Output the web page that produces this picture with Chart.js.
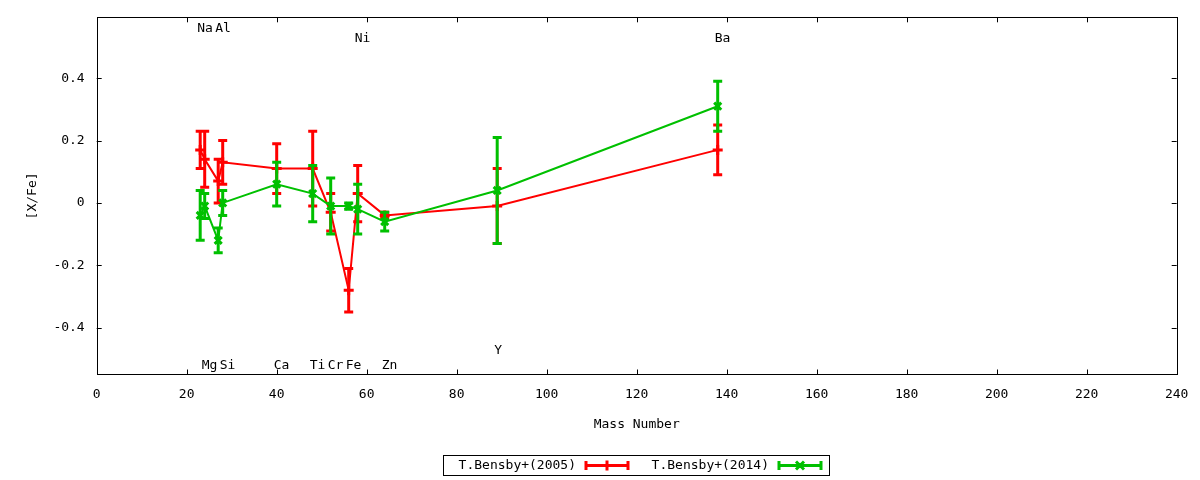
<!DOCTYPE html>
<html>
<head>
<meta charset="utf-8">
<script src="https://cdn.jsdelivr.net/npm/chart.js@4.4.0/dist/chart.umd.min.js"></script>
<style>
  html, body { margin: 0; padding: 0; background: #fff; }
</style>
</head>
<body>
<canvas id="myChart" width="1200" height="480"></canvas>
<script>
// mass number of each element (most abundant isotope)
const massNumbers = [23, 24, 27, 28, 40, 48, 52, 56, 58, 64, 89, 138];
const elementNames = ['Na', 'Mg', 'Al', 'Si', 'Ca', 'Ti', 'Cr', 'Fe', 'Ni', 'Zn', 'Y', 'Ba'];
// where the element name sits, in [X/Fe] units
const elementLabelY = [0.56, -0.52, 0.56, -0.52, -0.52, -0.52, -0.52, -0.52, 0.527, -0.52, -0.475, 0.527];

const bensby2005 = [0.17, 0.14, 0.07, 0.13, 0.11, 0.11, -0.03, -0.28, 0.03, -0.04, -0.01, 0.17];
const bensby2005Err = [0.06, 0.09, 0.07, 0.07, 0.08, 0.12, 0.06, 0.07, 0.09, 0.01, 0.12, 0.08];
const bensby2014 = [-0.04, -0.01, -0.12, 0.00, 0.06, 0.03, -0.01, -0.01, -0.02, -0.06, 0.04, 0.31];
const bensby2014Err = [0.08, 0.04, 0.04, 0.04, 0.07, 0.09, 0.09, 0.01, 0.08, 0.03, 0.17, 0.08];

const seriesLabels = ['T.Bensby+(2005)', 'T.Bensby+(2014)'];
const xTicks = [0, 20, 40, 60, 80, 100, 120, 140, 160, 180, 200, 220, 240];
const yTicks = [-0.4, -0.2, 0, 0.2, 0.4];

const FONT = "'DejaVu Sans Mono', 'Liberation Mono', monospace";
const RED = '#ff0000';
const GREEN = '#00c000';

const toPoints = vals => vals.map((v, i) => ({ x: massNumbers[i], y: v }));

// gnuplot-like frame with inward ticks on all four sides
const framePlugin = {
  id: 'frame',
  beforeDatasetsDraw(chart) {
    const { ctx, chartArea: a, scales } = chart;
    ctx.save();
    ctx.strokeStyle = '#000';
    ctx.lineWidth = 1;
    ctx.strokeRect(Math.round(a.left) + 0.5, Math.round(a.top) + 0.5,
      Math.round(a.right - a.left), Math.round(a.bottom - a.top));
    ctx.beginPath();
    xTicks.forEach(t => {
      const x = Math.round(scales.x.getPixelForValue(t)) + 0.5;
      ctx.moveTo(x, a.bottom); ctx.lineTo(x, a.bottom - 5);
      ctx.moveTo(x, a.top); ctx.lineTo(x, a.top + 5);
    });
    yTicks.forEach(t => {
      const y = Math.round(scales.y.getPixelForValue(t)) + 0.5;
      ctx.moveTo(a.left, y); ctx.lineTo(a.left + 5, y);
      ctx.moveTo(a.right, y); ctx.lineTo(a.right - 5, y);
    });
    ctx.stroke();
    ctx.restore();
  }
};

// vertical error bars with caps, drawn right before each dataset's line
const errorBarPlugin = {
  id: 'errorBars',
  beforeDatasetDraw(chart, args) {
    const ds = chart.data.datasets[args.index];
    if (!ds.errors) return;
    const { ctx, scales } = chart;
    ctx.save();
    ctx.strokeStyle = ds.borderColor;
    ctx.lineWidth = 3;
    ctx.beginPath();
    ds.data.forEach((p, i) => {
      const x = scales.x.getPixelForValue(p.x);
      const yTop = scales.y.getPixelForValue(p.y + ds.errors[i]);
      const yBot = scales.y.getPixelForValue(p.y - ds.errors[i]);
      ctx.moveTo(x, yTop); ctx.lineTo(x, yBot);
      ctx.moveTo(x - 4.5, yTop); ctx.lineTo(x + 4.5, yTop);
      ctx.moveTo(x - 4.5, yBot); ctx.lineTo(x + 4.5, yBot);
    });
    ctx.stroke();
    ctx.restore();
  }
};

// element names + gnuplot style legend box
const textPlugin = {
  id: 'texts',
  afterDraw(chart) {
    const { ctx, scales, chartArea: a } = chart;
    ctx.save();
    ctx.font = '13px ' + FONT;
    ctx.fillStyle = '#000';
    ctx.textBaseline = 'middle';
    ctx.textAlign = 'left';
    elementNames.forEach((name, i) => {
      ctx.fillText(name, scales.x.getPixelForValue(massNumbers[i]) - 3,
        scales.y.getPixelForValue(elementLabelY[i]));
    });

    // legend
    const entryW = 193;
    const boxW = entryW * chart.data.datasets.length;
    const boxL = Math.round((a.left + a.right) / 2 - boxW / 2) - 1;
    const boxT = 455, boxH = 20;
    ctx.lineWidth = 1;
    ctx.strokeStyle = '#000';
    ctx.strokeRect(boxL + 0.5, boxT + 0.5, boxW, boxH);
    const cy = boxT + boxH / 2 + 0.5;
    chart.data.datasets.forEach((ds, i) => {
      const x0 = boxL + i * entryW;
      ctx.textAlign = 'right';
      ctx.fillStyle = '#000';
      ctx.fillText(ds.label, x0 + 133, cy);
      const s0 = x0 + 143, s1 = x0 + 185;
      ctx.strokeStyle = ds.borderColor;
      ctx.lineWidth = 3;
      ctx.beginPath();
      ctx.moveTo(s0, cy); ctx.lineTo(s1, cy);
      ctx.moveTo(s0, cy - 4.5); ctx.lineTo(s0, cy + 4.5);
      ctx.moveTo(s1, cy - 4.5); ctx.lineTo(s1, cy + 4.5);
      const m = (s0 + s1) / 2;
      if (ds.pointStyle === 'crossRot') {
        ctx.moveTo(m - 4, cy - 4); ctx.lineTo(m + 4, cy + 4);
        ctx.moveTo(m - 4, cy + 4); ctx.lineTo(m + 4, cy - 4);
      } else {
        ctx.moveTo(m, cy - 5); ctx.lineTo(m, cy + 5);
      }
      ctx.stroke();
    });
    ctx.restore();
  }
};

const ctx = document.getElementById('myChart').getContext('2d');

const chart = new Chart(ctx, {
  type: 'line',
  data: {
    datasets: [
      {
        label: seriesLabels[0],
        data: toPoints(bensby2005),
        errors: bensby2005Err,
        borderColor: RED,
        backgroundColor: RED,
        borderWidth: 2,
        pointStyle: 'cross',
        pointRadius: 5,
        pointBorderWidth: 3,
        order: 1
      },
      {
        label: seriesLabels[1],
        data: toPoints(bensby2014),
        errors: bensby2014Err,
        borderColor: GREEN,
        backgroundColor: GREEN,
        borderWidth: 2,
        pointStyle: 'crossRot',
        pointRadius: 5,
        pointBorderWidth: 3,
        order: 0
      }
    ]
  },
  options: {
    responsive: false,
    animation: false,
    devicePixelRatio: 1,
    layout: { padding: { left: 0, right: 23.3, top: 17.3, bottom: 43.5 } },
    plugins: { legend: { display: false }, tooltip: { enabled: false } },
    scales: {
      x: {
        type: 'linear',
        min: 0,
        max: 240,
        afterBuildTicks: axis => { axis.ticks = xTicks.map(v => ({ value: v })); },
        afterFit: axis => { axis.height = 62; axis.paddingLeft = 0; axis.paddingRight = 0; },
        grid: { display: false, drawTicks: false },
        border: { display: false },
        ticks: { padding: 12, color: '#000', font: { family: FONT, size: 13 }, maxRotation: 0 },
        title: { display: true, text: 'Mass Number', color: '#000',
          font: { family: FONT, size: 13 }, padding: { top: 0, bottom: 4 } }
      },
      y: {
        min: -0.55,
        max: 0.595,
        afterBuildTicks: axis => { axis.ticks = yTicks.map(v => ({ value: v })); },
        afterFit: axis => { axis.width = 96.7; axis.paddingTop = 0; axis.paddingBottom = 0; },
        grid: { display: false, drawTicks: false },
        border: { display: false },
        ticks: { padding: 12, color: '#000', font: { family: FONT, size: 13 },
          callback: v => String(v) },
        title: { display: true, text: '[X/Fe]', color: '#000',
          font: { family: FONT, size: 13 }, padding: { top: 25, bottom: 0 } }
      }
    }
  },
  plugins: [framePlugin, errorBarPlugin, textPlugin]
});
</script>
</body>
</html>
